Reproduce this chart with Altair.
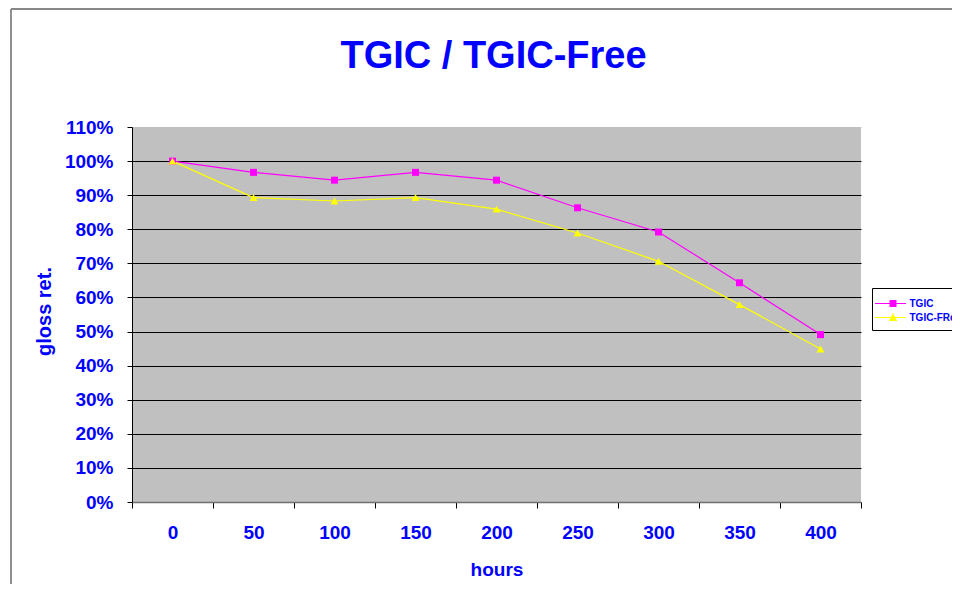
import altair as alt
import pandas as pd

# ---- data ----
hours = [0, 50, 100, 150, 200, 250, 300, 350, 400]
tgic = [1.00, 0.967, 0.944, 0.967, 0.944, 0.863, 0.792, 0.643, 0.491]
tgic_free = [1.00, 0.893, 0.883, 0.893, 0.859, 0.789, 0.706, 0.579, 0.449]
series_names = ["TGIC", "TGIC-FRee"]
series_colors = ["#ff00ff", "#ffff00"]
y_ticks = [0.0, 0.1, 0.2, 0.3, 0.4, 0.5, 0.6, 0.7, 0.8, 0.9, 1.0, 1.1]

rows = []
for h, a, b in zip(hours, tgic, tgic_free):
    rows.append({"hours": h, "series": series_names[0], "value": a})
    rows.append({"hours": h, "series": series_names[1], "value": b})
df = pd.DataFrame(rows)

FONT = "Liberation Sans"
BLUE = "#0000ff"

# ---- legend symbol paths (a line with the marker drawn from 1px strokes) ----
PX = 1.0 / 8.0  # one pixel in symbol units for symbolSize 256
LINE = "M%.4f,0H%.4f" % (-18 * PX, 13 * PX)
sq_parts = [LINE]
for k in range(-3, 4):
    sq_parts.append("M%.4f,%.4fH%.4f" % (-3.5 * PX, k * PX, 3.5 * PX))
SQ_PATH = "".join(sq_parts)
tri_parts = [LINE]
for k in range(-4, 4):
    hw = max(0.5, (k + 4) / 7.0 * 4.0)
    tri_parts.append("M%.4f,%.4fH%.4f" % (-hw * PX, k * PX, hw * PX))
TRI_PATH = "".join(tri_parts)

x_enc = alt.X(
    "hours:O",
    sort=hours,
    scale=alt.Scale(type="band", paddingInner=0, paddingOuter=0),
    axis=alt.Axis(
        title="hours", labelAngle=0, tickBand="extent", tickSize=6, tickColor="black",
        domainColor="#707070", domainWidth=1.5, grid=False, labelPadding=15,
        labelFont=FONT, labelFontSize=19, labelFontWeight="bold", labelColor=BLUE,
        titleFont=FONT, titleFontSize=19, titleFontWeight="bold", titleColor=BLUE,
        titleBaseline="alphabetic", titleY=73,
    ),
)

y_enc = alt.Y(
    "value:Q",
    scale=alt.Scale(domain=[0, 1.1], nice=False, zero=True),
    axis=alt.Axis(
        title="gloss ret.", values=y_ticks, format=".0%", tickSize=5, tickColor="black",
        domainColor="black", grid=True,
        gridColor={"condition": {"test": "datum.value > 1.05", "value": "#c0c0c0"}, "value": "#000000"},
        gridWidth=1, labelPadding=14,
        labelFont=FONT, labelFontSize=19, labelFontWeight="bold", labelColor=BLUE,
        titleFont=FONT, titleFontSize=20, titleFontWeight="bold", titleColor=BLUE,
        titleAngle=270, titleBaseline="middle", titleAlign="center", titleX=-88, titleY=184,
    ),
)

color_scale = alt.Scale(domain=series_names, range=series_colors)

legend = alt.Legend(
    title=None, orient="none", legendX=740, legendY=161, padding=7,
    fillColor="white", strokeColor="black", symbolSize=256, symbolStrokeWidth=1,
    symbolOpacity=1, symbolOffset=5.5, labelOffset=8, rowPadding=0,
    labelFont=FONT, labelFontSize=10, labelFontWeight="bold", labelColor=BLUE,
)

base = alt.Chart(df)

lines = base.mark_line(strokeWidth=1.2).encode(
    x=x_enc, y=y_enc,
    color=alt.Color("series:N", scale=color_scale, legend=None),
)

pts_tgic = base.transform_filter(alt.datum.series == series_names[0]).mark_point(
    filled=True, size=49, opacity=1, shape="square"
).encode(x=x_enc, y=y_enc, color=alt.Color("series:N", scale=color_scale, legend=None))

pts_free = base.transform_filter(alt.datum.series == series_names[1]).mark_point(
    filled=True, size=64, opacity=1, shape="triangle-up"
).encode(x=x_enc, y=y_enc, color=alt.Color("series:N", scale=color_scale, legend=None))

# legend-only layer (its marks are fully transparent)
legend_layer = base.mark_point(filled=False, opacity=0).encode(
    x=x_enc, y=y_enc,
    color=alt.Color("series:N", scale=color_scale, legend=legend),
    shape=alt.Shape("series:N", scale=alt.Scale(domain=series_names, range=[SQ_PATH, TRI_PATH]), legend=legend),
)

frame_data = alt.Data(values=[{"k": 1}])
frame_top = alt.Chart(frame_data).mark_rule(color="#111111", strokeWidth=1).encode(
    x=alt.value(-121), x2=alt.value(830), y=alt.value(-118)
)
frame_left = alt.Chart(frame_data).mark_rule(color="#909090", strokeWidth=2).encode(
    x=alt.value(-121), y=alt.value(-118), y2=alt.value(470)
)

chart = (
    alt.layer(frame_top, frame_left, lines, pts_tgic, pts_free, legend_layer)
    .resolve_scale(color="independent", shape="independent")
    .resolve_legend(color="independent", shape="independent")
    .properties(
        width=729, height=375,
        title=alt.TitleParams("TGIC / TGIC-Free", font=FONT, fontSize=38, fontWeight="bold",
                              color=BLUE, anchor="middle", offset=0, dy=68, dx=-3),
        autosize=alt.AutoSizeParams(type="none"),
        padding={"left": 124, "top": 119, "right": 91, "bottom": 82},
        background="white",
    )
    .configure_view(fill="#c0c0c0", stroke=None)
)

chart.save("out.html", embed_options={"renderer": "svg", "actions": False})
